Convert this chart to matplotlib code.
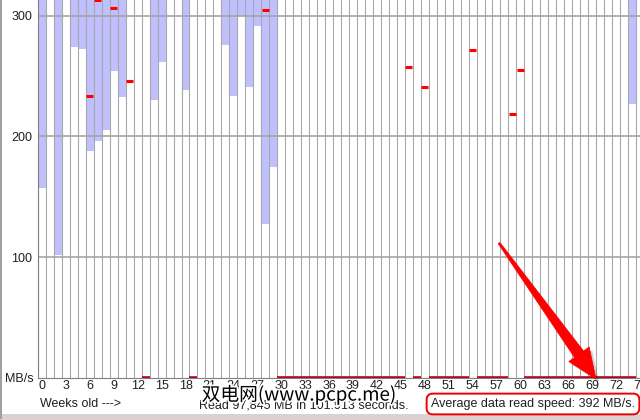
import matplotlib
matplotlib.use("Agg")
import matplotlib.pyplot as plt
import matplotlib.patches as mpatches
import matplotlib.patheffects as pe
import numpy as np

plt.rcParams["font.family"] = ["Liberation Sans", "DejaVu Sans"]

# weeks shown in the screenshot (0..74, the 75th column is cut off)
weeks = list(range(75))

# lower end of the blue range bar (MB/s); upper end runs off the top of the crop
bar_low = {0: 157, 2: 102, 4: 274, 5: 273, 6: 188, 7: 196, 8: 205, 9: 254, 10: 233,
           14: 230, 15: 262, 18: 239, 23: 276, 24: 234, 25: 300, 26: 241, 27: 292,
           28: 127, 29: 175, 74: 227}
bar_high = 340

# red average marks (MB/s)
avg_marks = {6: 234, 7: 313, 9: 307, 11: 246, 28: 305, 46: 258, 48: 241,
             54: 272, 59: 219, 60: 255}
zero_weeks = [13, 19] + list(range(30, 46)) + [47] + list(range(49, 54)) + \
             list(range(55, 59)) + list(range(61, 75))

xticks = list(range(0, 76, 3))
yticks = [100, 200, 300]

W, H = 640, 419
fig = plt.figure(figsize=(W / 100, H / 100), dpi=100)
fig.patch.set_facecolor("white")
ax = fig.add_axes([38 / W, (H - 377.5) / H, (W - 38) / W, 377.5 / H])

# range bars
bx = [w for w in weeks if w in bar_low]
blo = [bar_low[w] for w in bx]
ax.bar(bx, [bar_high - v for v in blo], bottom=blo, width=1.0,
       color="#c0c0ff", edgecolor="none", zorder=1)

# grid
for b in np.arange(-0.5, 76, 1):
    ax.axvline(b, color="#a8a8a8", lw=0.8, zorder=2)
for v in yticks:
    ax.axhline(v, color="#a4a4a4", lw=1.2, zorder=2)

# average marks
ax.hlines([avg_marks[w] for w in avg_marks], [w - 0.42 for w in avg_marks],
          [w + 0.42 for w in avg_marks], color="#ff0000", lw=2.2, zorder=3)
ax.hlines([0] * len(zero_weeks), [w - 0.5 for w in zero_weeks],
          [w + 0.5 for w in zero_weeks], color="#b80018", lw=2.6, zorder=3)

ax.set_xlim(-0.5, (W - 38) / 8 - 0.5)
ax.set_ylim(0, 377.5 / 1.205)
ax.set_xticks(xticks)
ax.set_xticklabels([str(t) for t in xticks])
ax.set_yticks(yticks)
ax.tick_params(length=0, labelsize=9, colors="#202020", pad=2)
ax.tick_params(axis="y", pad=4)
for s in ["top", "right"]:
    ax.spines[s].set_visible(False)
ax.spines["left"].set_color("#808080")
ax.spines["bottom"].set_color("#808080")
ax.spines["left"].set_zorder(4)
ax.spines["bottom"].set_zorder(4)

fs = 9
fig.text(5 / W, 1 - 379 / H, "MB/s", fontsize=fs, color="#202020", va="center")
fig.text(40 / W, 1 - 404 / H, "Weeks old --->", fontsize=fs, color="#202020", va="center")
fig.text(304 / W, 1 - 405 / H, "Read 97,845 MB in 101.913 seconds.", fontsize=fs,
         color="#202020", va="center", ha="center")
fig.text(299 / W, 1 - 395 / H, "双电网(www.pcpc.me)", fontsize=13.5, color="black",
         va="center", ha="center", family=["Noto Sans CJK SC", "DejaVu Sans"],
         weight="light", path_effects=[pe.withStroke(linewidth=2.5, foreground="white")])
fig.text(533 / W, 1 - 404 / H, "Average data read speed: 392 MB/s.", fontsize=fs,
         color="#202020", va="center", ha="center",
         bbox=dict(boxstyle="round,pad=0.35,rounding_size=0.5", fc="white",
                   ec="#ee0000", lw=1.4))

# red arrow annotation (pixel coords, y from top)
tail = np.array([499.0, 243.0])
tip = np.array([596.0, 379.0])
u = (tip - tail) / np.linalg.norm(tip - tail)
n = np.array([u[1], -u[0]])
L = np.linalg.norm(tip - tail)
base = tail + u * (L - 30)
pts = [tail + n * 1.0, base + n * 6, base + n * 13, tip, base - n * 12,
       base - n * 5, tail - n * 1.0]
pts = [(p[0] / W, 1 - p[1] / H) for p in pts]
shadow = [(x + 3 / W, y - 3 / H) for x, y in pts]
fig.patches.append(mpatches.Polygon(shadow, closed=True, transform=fig.transFigure,
                                    fc="#000000", ec="none", alpha=0.18, zorder=5))
fig.patches.append(mpatches.Polygon(pts, closed=True, transform=fig.transFigure,
                                    fc="#ff0000", ec="#ff0000", lw=0.5, zorder=6))

# window borders
fig.patches.append(mpatches.Rectangle((0, 0), 1, 5 / H, transform=fig.transFigure,
                                      fc="#d4d4d4", ec="none"))
fig.patches.append(mpatches.Rectangle((0, 0), 1.5 / W, 1, transform=fig.transFigure,
                                      fc="#a0a0a0", ec="none"))

fig.savefig("out.png", dpi=100)
